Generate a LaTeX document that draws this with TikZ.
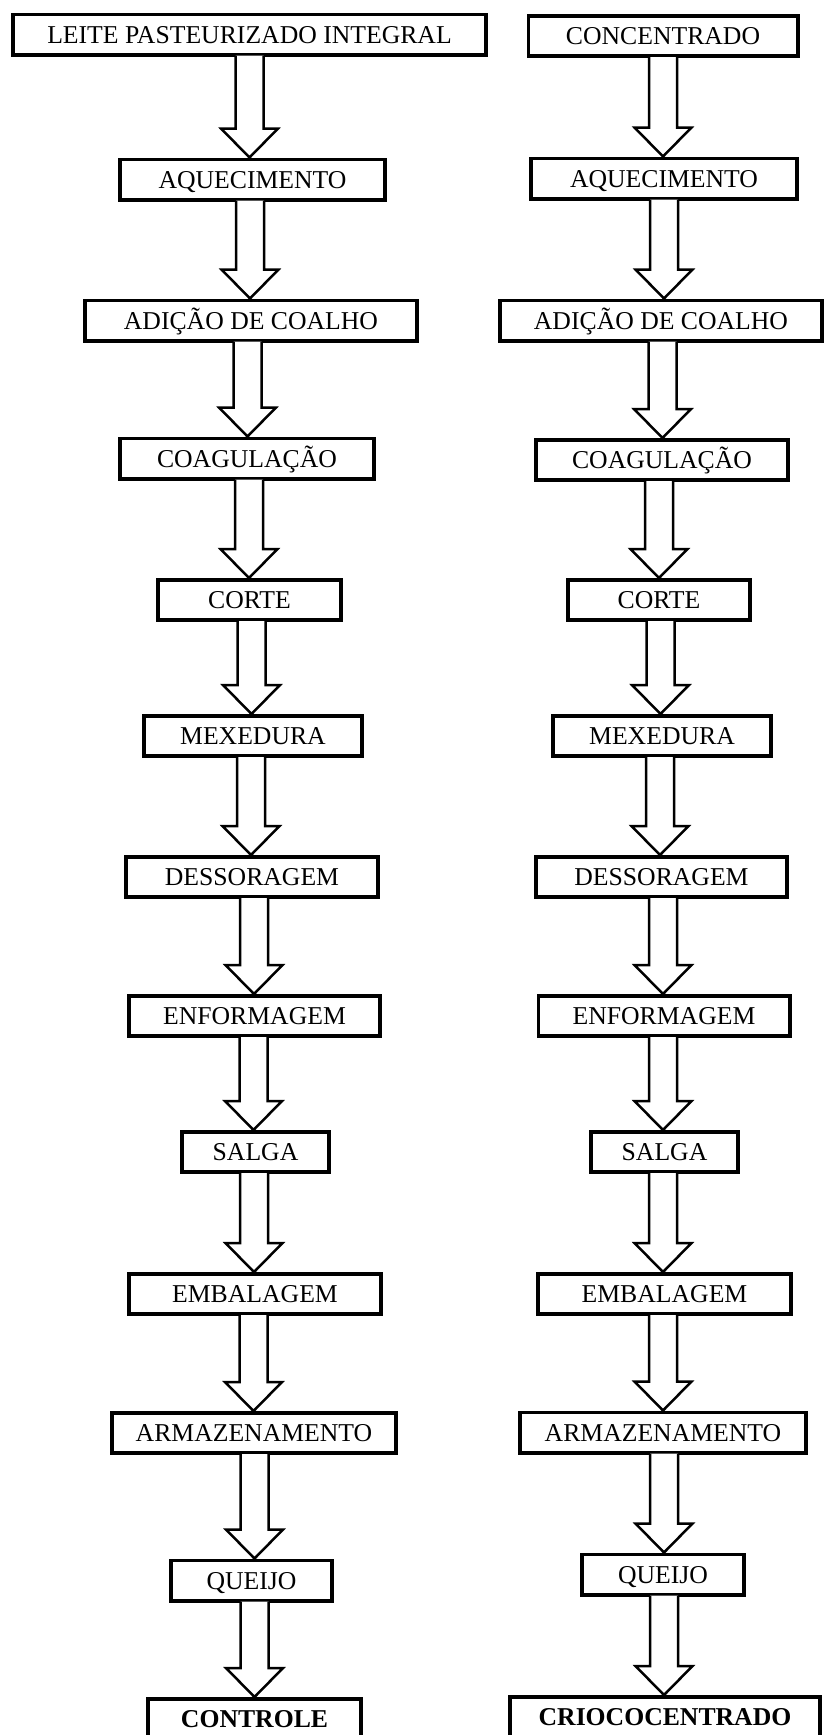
\documentclass[tikz,border=0pt]{standalone}
\usepackage{fontspec}
\setmainfont{Liberation Serif}
\usetikzlibrary{calc}
\tikzset{
  stepbox/.style={draw, line width=3.8pt, fill=white, inner sep=0pt,
    minimum height=40.2pt, text height=17pt, text depth=0pt,
    font=\fontsize{25.7}{28}\selectfont},
  flowshape/.style={draw, fill=white, line width=2.5pt, line join=miter}
}
\newcommand\blockflow[3]{%
  \path[flowshape] let \p1=(#1.south), \p2=(#2.north) in
    ({#3pt-14pt},{\y1+1pt}) -- ({#3pt-14pt},{\y2+29pt}) -- ({#3pt-28.5pt},{\y2+29pt})
    -- ({#3pt},{\y2}) -- ({#3pt+28.5pt},{\y2+29pt}) -- ({#3pt+14pt},{\y2+29pt})
    -- ({#3pt+14pt},{\y1+1pt});}
\begin{document}
\begin{tikzpicture}[x=1pt,y=-1pt]
\useasboundingbox (0,0) rectangle (823,1735);
% left column
\node[stepbox, minimum width=473.2pt] (l1) at (249.5,34.5) {LEITE PASTEURIZADO INTEGRAL};
\node[stepbox, minimum width=265.2pt] (l2) at (252.5,179.5) {AQUECIMENTO};
\node[stepbox, minimum width=332.2pt] (l3) at (251,320.5) {ADIÇÃO DE COALHO};
\node[stepbox, minimum width=254.2pt] (l4) at (247,458.5) {COAGULAÇÃO};
\node[stepbox, minimum width=183.2pt] (l5) at (249.5,600) {CORTE};
\node[stepbox, minimum width=218.2pt] (l6) at (253,736) {MEXEDURA};
\node[stepbox, minimum width=252.2pt] (l7) at (252,877) {DESSORAGEM};
\node[stepbox, minimum width=251.2pt] (l8) at (254.5,1016) {ENFORMAGEM};
\node[stepbox, minimum width=147.2pt] (l9) at (255.5,1152) {SALGA};
\node[stepbox, minimum width=252.2pt] (l10) at (255,1294) {EMBALAGEM};
\node[stepbox, minimum width=284.2pt] (l11) at (254,1433) {ARMAZENAMENTO};
\node[stepbox, minimum width=161.2pt] (l12) at (251.5,1580.5) {QUEIJO};
\node[stepbox, minimum width=213.2pt] (l13) at (254.5,1719) {\bfseries CONTROLE};
% right column
\node[stepbox, minimum width=269.2pt] (r1) at (663,36) {CONCENTRADO};
\node[stepbox, minimum width=266.2pt] (r2) at (664,178.5) {AQUECIMENTO};
\node[stepbox, minimum width=322.2pt] (r3) at (661,320.5) {ADIÇÃO DE COALHO};
\node[stepbox, minimum width=252.2pt] (r4) at (662,460) {COAGULAÇÃO};
\node[stepbox, minimum width=182.2pt] (r5) at (659,600) {CORTE};
\node[stepbox, minimum width=218.2pt] (r6) at (662,736) {MEXEDURA};
\node[stepbox, minimum width=251.2pt] (r7) at (661.5,877) {DESSORAGEM};
\node[stepbox, minimum width=251.2pt] (r8) at (664,1016) {ENFORMAGEM};
\node[stepbox, minimum width=147.2pt] (r9) at (664.5,1152) {SALGA};
\node[stepbox, minimum width=253.2pt] (r10) at (664.5,1294) {EMBALAGEM};
\node[stepbox, minimum width=286.2pt] (r11) at (663,1432.5) {ARMAZENAMENTO};
\node[stepbox, minimum width=162.2pt] (r12) at (663,1574.5) {QUEIJO};
\node[stepbox, minimum width=310.2pt] (r13) at (665,1717) {\bfseries CRIOCOCENTRADO};
% arrows left
\blockflow{l1}{l2}{249.5}
\blockflow{l2}{l3}{250}
\blockflow{l3}{l4}{247.5}
\blockflow{l4}{l5}{249}
\blockflow{l5}{l6}{251.5}
\blockflow{l6}{l7}{251}
\blockflow{l7}{l8}{254}
\blockflow{l8}{l9}{253.5}
\blockflow{l9}{l10}{254}
\blockflow{l10}{l11}{253.5}
\blockflow{l11}{l12}{254.5}
\blockflow{l12}{l13}{254.5}
% arrows right
\blockflow{r1}{r2}{663}
\blockflow{r2}{r3}{664}
\blockflow{r3}{r4}{662.5}
\blockflow{r4}{r5}{659}
\blockflow{r5}{r6}{660.5}
\blockflow{r6}{r7}{660}
\blockflow{r7}{r8}{663}
\blockflow{r8}{r9}{663}
\blockflow{r9}{r10}{663}
\blockflow{r10}{r11}{663}
\blockflow{r11}{r12}{664}
\blockflow{r12}{r13}{664}
\end{tikzpicture}
\end{document}
